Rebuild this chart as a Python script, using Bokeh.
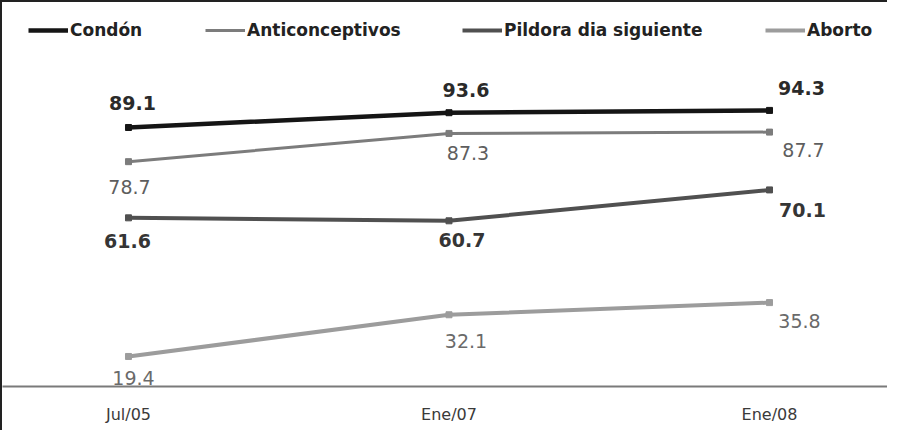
from bokeh.plotting import figure
from bokeh.models import (ColumnDataSource, Range1d, FixedTicker, Legend, LegendItem)
from bokeh.core.properties import value
from bokeh.embed import file_html
from bokeh.resources import INLINE

# ---- data ----
categories = ["Jul/05", "Ene/07", "Ene/08"]
series_names = ["Condón", "Anticonceptivos", "Pildora dia siguiente", "Aborto"]
condon = [89.1, 93.6, 94.3]
anticonceptivos = [78.7, 87.3, 87.7]
pildora = [61.6, 60.7, 70.1]
aborto = [19.4, 32.1, 35.8]

# ---- styles (kept separate from data) ----
line_colors = ["#151515", "#7c7c7c", "#505050", "#9c9c9c"]
line_widths = [4.5, 3, 4, 4]
label_colors = ["#2a2a2a", "#5e5e5e", "#353535", "#6a6a6a"]
label_styles = ["bold", "normal", "bold", "normal"]
label_dx = [[4, 17, 32], [1, 19, 34], [-1, 13, 33], [5, 17, 30]]
label_dy = [[-24, -23, -22], [25, 20, 18], [23, 19, 20], [22, 26, 18]]
legend_x = [26, 203, 460, 763]

W, H = 887, 430
x_pos = list(range(len(categories)))

p = figure(width=W, height=H, output_backend="svg", toolbar_location=None,
           x_range=Range1d(-0.3931, 2.3744), y_range=Range1d(10.26, 127.15),
           y_axis_location=None, min_border_left=0, min_border_right=0,
           min_border_top=0, min_border_bottom=46)
p.styles = {"border-left": "2px solid #222222", "border-top": "2px solid #222222"}
p.outline_line_color = None
p.xgrid.visible = False
p.ygrid.visible = False
p.background_fill_color = "white"
p.border_fill_color = "white"

ax = p.xaxis[0]
ax.ticker = FixedTicker(ticks=x_pos)
ax.major_label_overrides = {i: c for i, c in enumerate(categories)}
ax.major_tick_line_color = None
ax.minor_tick_line_color = None
ax.major_tick_out = 0
ax.major_tick_in = 0
ax.axis_line_color = "#7a7a7a"
ax.axis_line_width = 2
ax.major_label_standoff = 18
ax.major_label_text_font = "DejaVu Sans"
ax.major_label_text_font_size = "16px"
ax.major_label_text_color = "#3a3a3a"

all_series = [condon, anticonceptivos, pildora, aborto]
for i, (name, vals) in enumerate(zip(series_names, all_series)):
    src = ColumnDataSource(dict(x=x_pos, y=vals, lab=[f"{v:.1f}" for v in vals],
                                dx=label_dx[i], dy=label_dy[i]))
    r_line = p.line("x", "y", source=src, line_color=line_colors[i], line_width=line_widths[i])
    r_mark = p.scatter("x", "y", source=src, marker="square", size=6,
                       fill_color=line_colors[i], line_color=line_colors[i])
    p.text("x", "y", text="lab", source=src, x_offset="dx", y_offset="dy",
           text_align="center", text_baseline="middle",
           text_font=value("DejaVu Sans"), text_font_size="19px",
           text_font_style=label_styles[i], text_color=label_colors[i])
    leg = Legend(items=[LegendItem(label=name, renderers=[r_line])],
                 location=(legend_x[i], 346), orientation="horizontal",
                 padding=0, margin=0, spacing=0, border_line_color=None,
                 background_fill_alpha=0, glyph_width=40, glyph_height=16,
                 label_height=16, label_standoff=2,
                 label_text_font="DejaVu Sans", label_text_font_size="17px",
                 label_text_font_style="bold", label_text_color="#222222")
    p.add_layout(leg, "center")

open("out.html", "w").write(file_html(p, INLINE))
